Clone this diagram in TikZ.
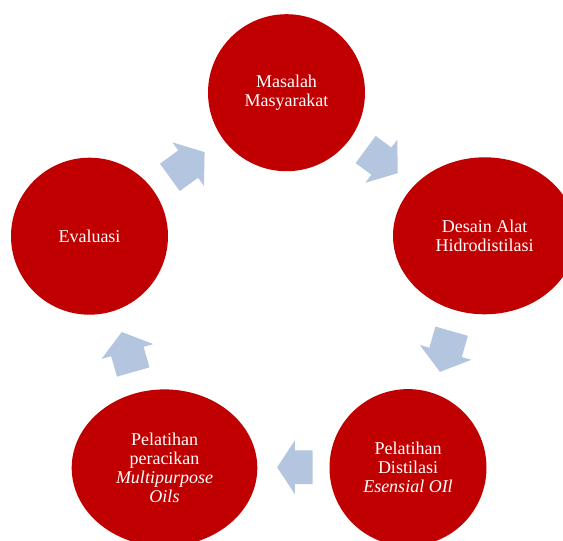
\documentclass[tikz,border=0pt]{standalone}
\usepackage{fontspec}
\setmainfont{Liberation Serif}
\definecolor{cyclered}{HTML}{C00000}
\definecolor{cycleblue}{HTML}{B4C5E0}
\usetikzlibrary{shapes.geometric, shapes.arrows}

\begin{document}
\begin{tikzpicture}[x=1pt, y=-1pt,
      stage/.style={ellipse, fill=cyclered, text=white, inner sep=0pt,
                    minimum height=157pt, align=center,
                    font=\fontsize{18}{19}\selectfont},
      flow/.style={single arrow, fill=cycleblue, inner xsep=0pt, inner ysep=16.7pt,
                   single arrow head extend=10pt,
                   single arrow tip angle=106, single arrow head indent=0pt,
                   anchor=tail, minimum height=#1}
    ]
      \useasboundingbox (0,0) rectangle (563,541);

      \node[stage, minimum width=157pt] (masalah) at (286.5,92.7) {Masalah\\Masyarakat};
      \node[stage, minimum width=183.4pt] (desain) at (484.7,235.8) {Desain Alat\\Hidrodistilasi};
      \node[stage, minimum width=157pt] (distilasi) at (408,467.6) {Pelatihan\\Distilasi\\\textit{Esensial OIl}};
      \node[stage, minimum width=185.6pt] (peracikan) at (164.5,467.9) {Pelatihan\\peracikan\\\textit{Multipurpose}\\\textit{Oils}};
      \node[stage, minimum width=157pt] (evaluasi) at (89.5,236.2) {Evaluasi};

      % block arrows between the stages
      \node[flow=39.8pt, rotate=-36.5] (a1) at (365.5,149.4) {};
      \node[flow=42.3pt, rotate=-106] (a2) at (451.7,331) {};
      \node[flow=35.4pt, rotate=180, single arrow tip angle=113] (a3) at (312.7,467.3) {};
      \node[flow=41.6pt, rotate=106] (a4) at (133.3,372.2) {};
      \node[flow=42.9pt, rotate=36] (a5) at (169.7,177.5) {};
\end{tikzpicture}
\end{document}
